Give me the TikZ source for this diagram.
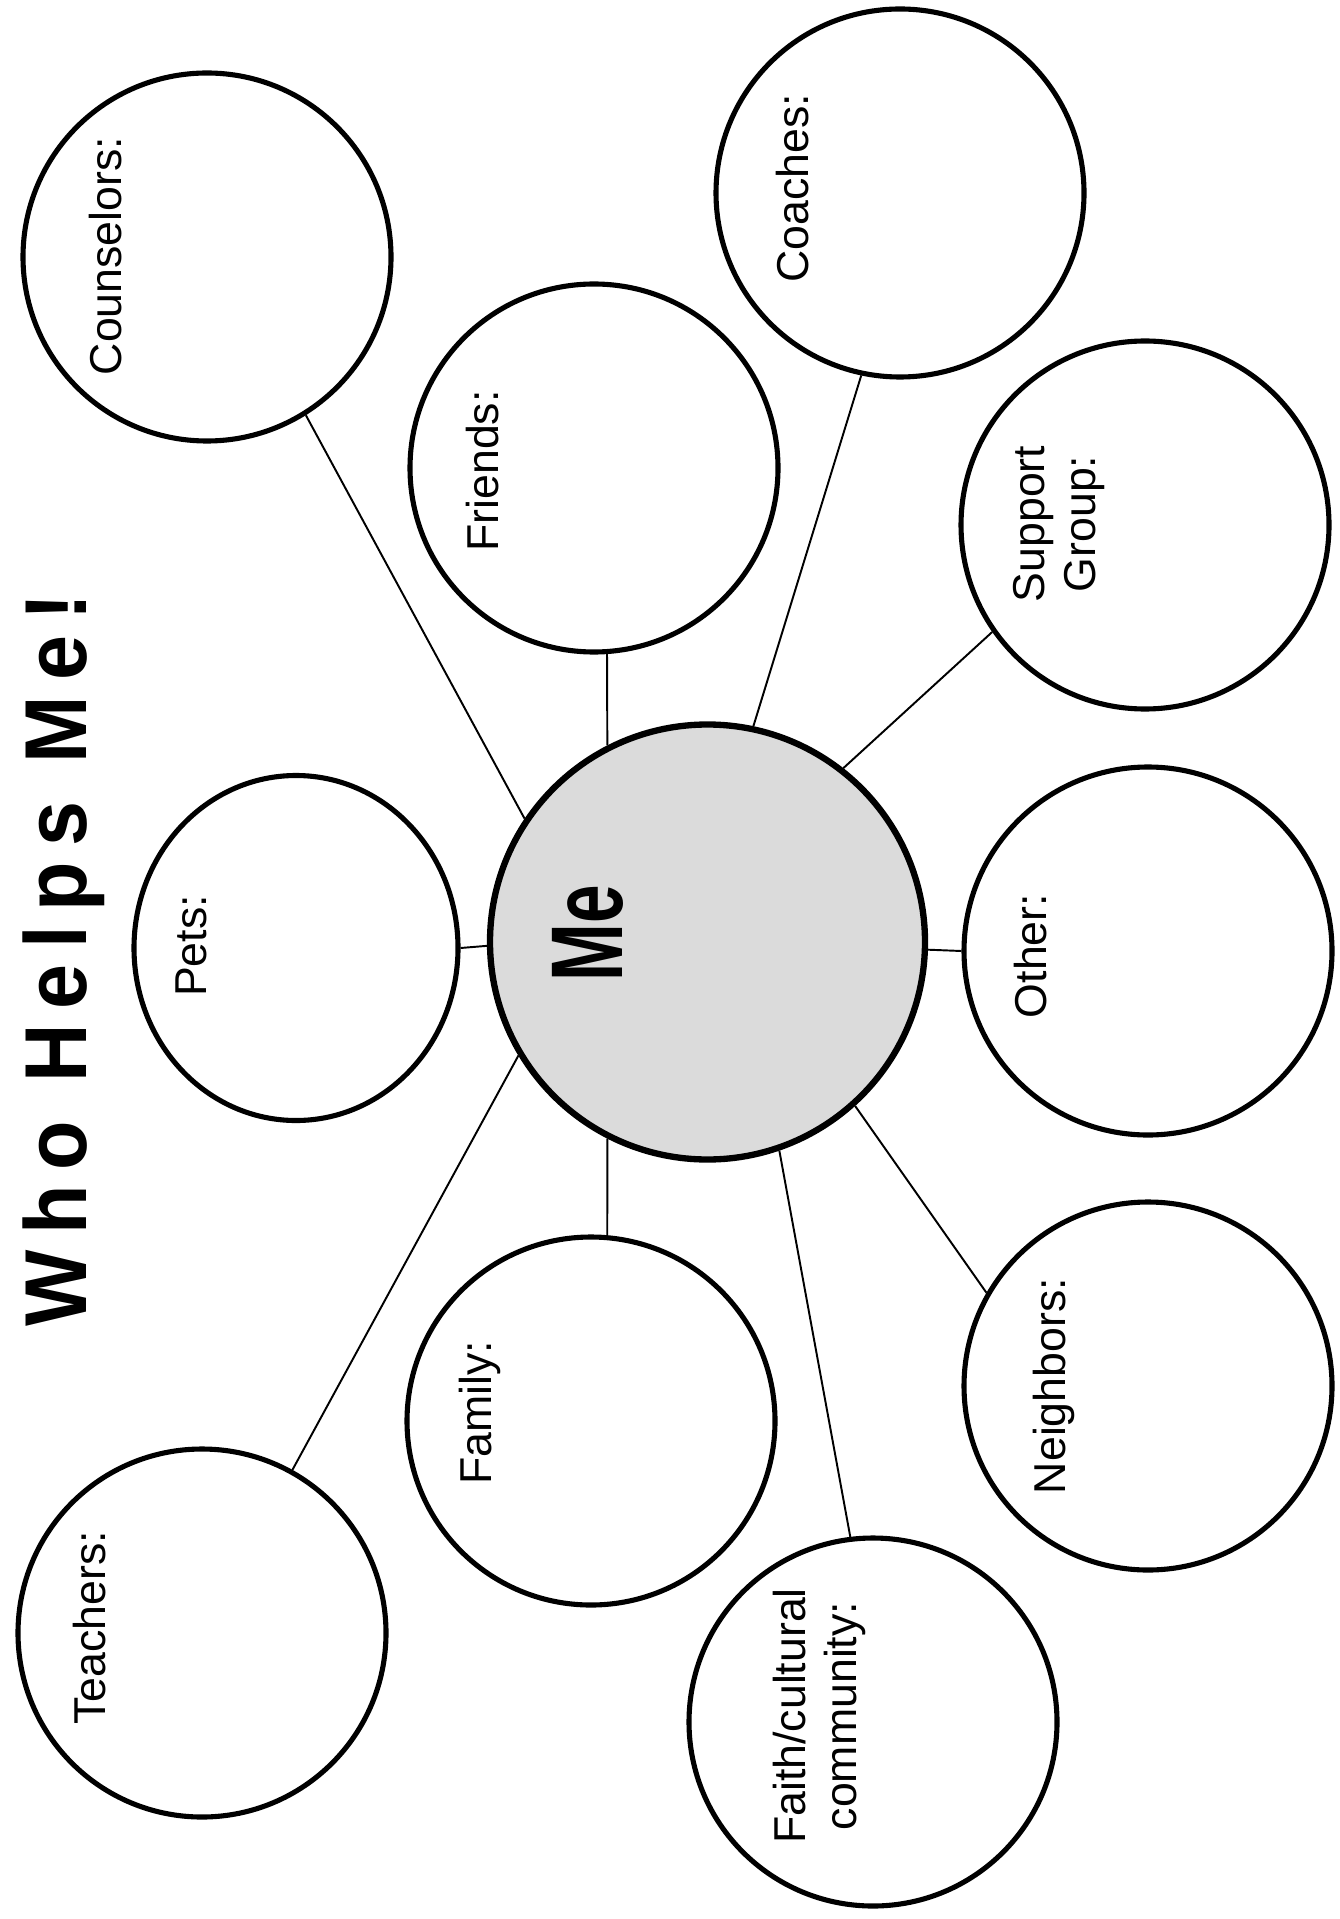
\documentclass[tikz,border=0pt]{standalone}
\usepackage{fontspec}
\setmainfont{Liberation Sans}
\usetikzlibrary{shapes.geometric}
\newcommand{\pxsize}{0.01cm}
\definecolor{mefill}{gray}{0.86}

\begin{document}
\begin{tikzpicture}[x=\pxsize, y=-\pxsize]
\useasboundingbox (0,0) rectangle (1340,1919);
\tikzstyle{bubble}=[draw,
			circle,
			line width=1.45pt,
			fill=white,
			minimum size=368*\pxsize,
			inner sep=0pt
			]
\tikzstyle{lbl}=[rotate=90, anchor=north, inner sep=0pt, align=center,
			font=\fontsize{12.7}{14.5}\selectfont]
\tikzstyle{link}=[line width=0.55pt]


\node[rotate=90, anchor=north, inner sep=0pt, font=\fontsize{25}{30}\selectfont\bfseries] (title) at (22,960) {\scalebox{0.92}[1]{\addfontfeature{LetterSpace=19}Who Helps Me!}};


\node[bubble, line width=1.8pt, fill=mefill, minimum size=435*\pxsize] (me) at (707.5,942) {};

\node[bubble] (coun) at (207,257) {};

\node[bubble] (frnd) at (594,468) {};

\node[bubble] (coach) at (900,193) {};

\node[bubble] (supp) at (1145,525) {};

\node[bubble, ellipse, minimum width=324*\pxsize, minimum height=345*\pxsize] (pets) at (296,948) {};

\node[bubble] (other) at (1148,951) {};

\node[bubble] (fam) at (591,1421) {};

\node[bubble] (neigh) at (1148,1386) {};

\node[bubble] (teach) at (202,1633) {};

\node[bubble] (faith) at (873,1722) {};


\draw[link] (me.146) -- (coun.-58);
\draw[link] (me.117) -- (frnd.-86);
\draw[link] (me.78) -- (coach.-102);
\draw[link] (me.52.5) -- (supp.-145);
\draw[link] (me.181.5) -- (pets.0);
\draw[link] (me.-2) -- (other.180);
\draw[link] (me.-117) -- (fam.85);
\draw[link] (me.-48.5) -- (neigh.150);
\draw[link] (me.211.5) -- (teach.61);
\draw[link] (me.-71) -- (faith.97.6);


\node[rotate=90, anchor=north, inner sep=0pt, font=\fontsize{29}{34}\selectfont\bfseries] (metext) at (552,933) {\scalebox{0.68}[1]{Me}};

\node[lbl] (lcoun) at (88,256) {Counselors:};

\node[lbl] (lfrnd) at (465,471) {Friends:};

\node[lbl] (lcoach) at (775,188) {Coaches:};

\node[lbl] (lsupp) at (1013,524) {Support\\Group:};

\node[lbl] (lpets) at (175,946) {Pets:};

\node[lbl] (lother) at (1013,956) {Other:};

\node[lbl] (lfam) at (458,1413) {Family:};

\node[lbl] (lneigh) at (1032,1386) {Neighbors:};

\node[lbl] (lteach) at (72,1628) {Teachers:};

\node[lbl] (lfaith) at (772,1716) {Faith/cultural\\community:};

\end{tikzpicture}
\end{document}
